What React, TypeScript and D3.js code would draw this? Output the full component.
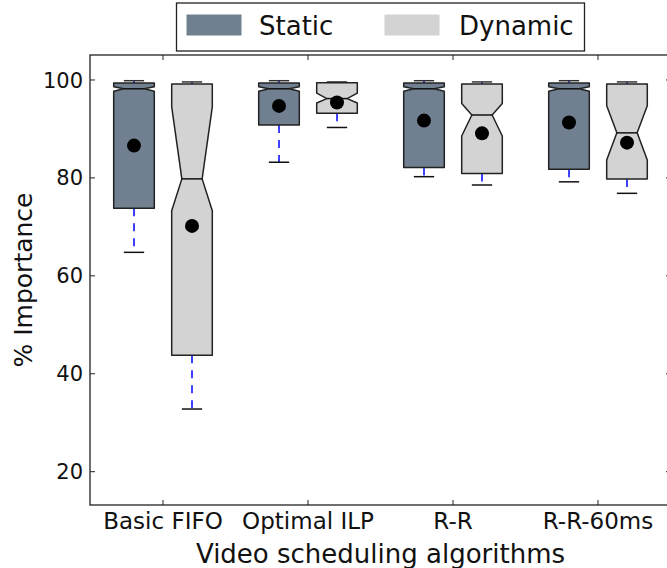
import React from 'react';
import * as d3 from 'd3';

const categories = ['Basic FIFO', 'Optimal ILP', 'R-R', 'R-R-60ms'];
const seriesNames = ['Static', 'Dynamic'];
const seriesColors = ['#708090', '#d3d3d3'];
const yTicks = [20, 40, 60, 80, 100];

const staticWhiskerLow = [64.8, 83.2, 80.25, 79.2];
const staticQ1 = [73.8, 90.8, 82.1, 81.75];
const staticNotchLow = [97.7, 97.7, 97.7, 97.7];
const staticMedian = [98.2, 98.2, 98.2, 98.2];
const staticNotchHigh = [98.6, 98.6, 98.6, 98.6];
const staticQ3 = [99.4, 99.4, 99.4, 99.4];
const staticWhiskerHigh = [99.85, 99.85, 99.85, 99.85];
const staticMean = [86.6, 94.7, 91.7, 91.3];

const dynamicWhiskerLow = [32.8, 90.3, 78.55, 76.85];
const dynamicQ1 = [43.8, 93.2, 80.9, 79.8];
const dynamicNotchLow = [73.3, 95.3, 88.55, 83.65];
const dynamicMedian = [79.8, 96.2, 92.85, 89.2];
const dynamicNotchHigh = [94.5, 97.3, 95.2, 94.75];
const dynamicQ3 = [99.2, 99.45, 99.2, 99.2];
const dynamicWhiskerHigh = [99.6, 99.6, 99.6, 99.6];
const dynamicMean = [70.2, 95.4, 89.1, 87.2];

type Box = { wl: number; q1: number; nl: number; med: number; nh: number; q3: number; wh: number; mean: number };

const build = (wl: number[], q1: number[], nl: number[], med: number[], nh: number[], q3: number[], wh: number[], mean: number[]): Box[] =>
  wl.map((_, i) => ({ wl: wl[i], q1: q1[i], nl: nl[i], med: med[i], nh: nh[i], q3: q3[i], wh: wh[i], mean: mean[i] }));

const seriesData: Box[][] = [
  build(staticWhiskerLow, staticQ1, staticNotchLow, staticMedian, staticNotchHigh, staticQ3, staticWhiskerHigh, staticMean),
  build(dynamicWhiskerLow, dynamicQ1, dynamicNotchLow, dynamicMedian, dynamicNotchHigh, dynamicQ3, dynamicWhiskerHigh, dynamicMean),
];

const W = 667;
const H = 568;
const left = 90;
const right = 671;
const top = 55;
const bottom = 505;

export default function App() {
  const x = d3.scaleLinear().domain([0.5, 4.5]).range([90.5, 670.5]);
  const y = d3.scaleLinear().domain([13.2, 105.1]).range([bottom, top]);
  const offsets = [-0.2, 0.2];
  const boxW = 0.28;
  const font = 'DejaVu Sans, sans-serif';
  const spine = '#222';

  const boxPath = (pos: number, b: Box) => {
    const l = x(pos - boxW / 2);
    const r = x(pos + boxW / 2);
    const cl = x(pos - boxW / 4);
    const cr = x(pos + boxW / 4);
    const p = d3.path();
    p.moveTo(l, y(b.q1));
    p.lineTo(r, y(b.q1));
    p.lineTo(r, y(b.nl));
    p.lineTo(cr, y(b.med));
    p.lineTo(r, y(b.nh));
    p.lineTo(r, y(b.q3));
    p.lineTo(l, y(b.q3));
    p.lineTo(l, y(b.nh));
    p.lineTo(cl, y(b.med));
    p.lineTo(l, y(b.nl));
    p.closePath();
    return p.toString();
  };

  return (
    <svg width={W} height={H} style={{ position: 'absolute', left: 0, top: 0, background: '#fff' }} fontFamily={font}>
      <rect x={0} y={0} width={W} height={H} fill="#fff" />
      {seriesData.map((boxes, s) =>
        boxes.map((b, i) => {
          const pos = i + 1 + offsets[s];
          const cx = x(pos);
          const capL = x(pos - boxW / 4);
          const capR = x(pos + boxW / 4);
          return (
            <g key={`${s}-${i}`}>
              <line x1={cx} x2={cx} y1={y(b.q1)} y2={y(b.wl)} stroke="#0000ff" strokeWidth={1.5} strokeDasharray="8,7" />
              <line x1={cx} x2={cx} y1={y(b.q3)} y2={y(b.wh)} stroke="#0000ff" strokeWidth={1.5} strokeDasharray="8,7" />
              <line x1={capL} x2={capR} y1={y(b.wl)} y2={y(b.wl)} stroke="#111" strokeWidth={1.5} />
              <line x1={capL} x2={capR} y1={y(b.wh)} y2={y(b.wh)} stroke="#333" strokeWidth={1.5} />
              <path d={boxPath(pos, b)} fill={seriesColors[s]} stroke="#222" strokeWidth={1.5} strokeLinejoin="round" />
              <line x1={capL} x2={capR} y1={y(b.med)} y2={y(b.med)} stroke="#111" strokeWidth={1.5} />
              <circle cx={cx} cy={y(b.mean)} r={7} fill="#000" />
            </g>
          );
        })
      )}
      <rect x={left} y={top} width={right - left} height={bottom - top} fill="none" stroke={spine} strokeWidth={1.3} />
      {yTicks.map((t) => (
        <g key={t}>
          <line x1={left} x2={left + 5} y1={y(t)} y2={y(t)} stroke={spine} strokeWidth={1} />
          <line x1={right - 5} x2={right} y1={y(t)} y2={y(t)} stroke={spine} strokeWidth={1} />
          <text x={83} y={y(t)} dy="0.36em" textAnchor="end" fontSize={21} fill="#111">
            {t}
          </text>
        </g>
      ))}
      {categories.map((c, i) => (
        <g key={c}>
          <line x1={x(i + 1)} x2={x(i + 1)} y1={bottom} y2={bottom - 5} stroke={spine} strokeWidth={1} />
          <line x1={x(i + 1)} x2={x(i + 1)} y1={top} y2={top + 5} stroke={spine} strokeWidth={1} />
          <text x={x(i + 1)} y={529} textAnchor="middle" fontSize={23} fill="#111">
            {c}
          </text>
        </g>
      ))}
      <text x={(left + right) / 2} y={563} textAnchor="middle" fontSize={26} fill="#111">
        Video scheduling algorithms
      </text>
      <text transform={`translate(32, ${(top + bottom) / 2}) rotate(-90)`} textAnchor="middle" fontSize={25} fill="#111">
        % Importance
      </text>
      <rect x={176.5} y={3} width={408} height={48} fill="#fff" stroke="#222" strokeWidth={1.3} />
      {seriesNames.map((n, s) => {
        const px = s === 0 ? 187 : 385;
        const tx = s === 0 ? 259 : 459;
        return (
          <g key={n}>
            <rect x={px} y={15} width={54} height={20} fill={seriesColors[s]} stroke={seriesColors[s]} />
            <text x={tx} y={35} fontSize={26} fill="#111">
              {n}
            </text>
          </g>
        );
      })}
    </svg>
  );
}
